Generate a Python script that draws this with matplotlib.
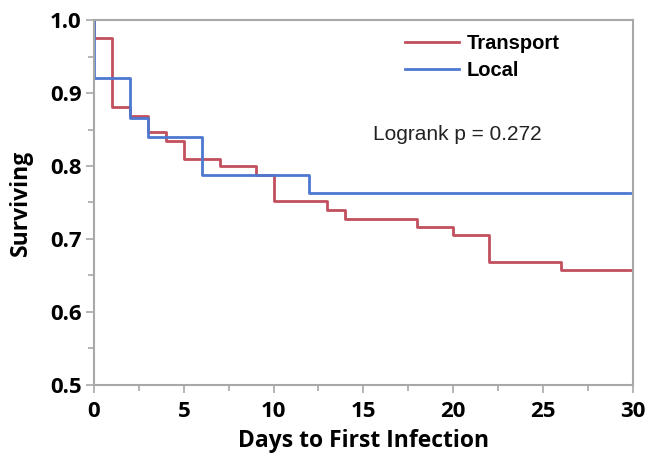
import matplotlib
matplotlib.use("Agg")
import matplotlib.pyplot as plt
from matplotlib.ticker import MultipleLocator

# Kaplan-Meier step data
transport_days = [0, 0, 1, 2, 3, 4, 5, 7, 9, 10, 13, 14, 18, 20, 22, 26, 30]
transport_surv = [1.0, 0.976, 0.881, 0.868, 0.847, 0.834, 0.810, 0.800, 0.787,
                  0.752, 0.739, 0.727, 0.716, 0.705, 0.669, 0.658, 0.658]
local_days = [0, 0, 2, 3, 6, 12, 30]
local_surv = [1.0, 0.920, 0.866, 0.840, 0.788, 0.763, 0.763]

xticks = [0, 5, 10, 15, 20, 25, 30]
yticks = [0.5, 0.6, 0.7, 0.8, 0.9, 1.0]

red = "#c24f5e"
blue = "#4d78d0"
gray = "#a8a8a8"

fig = plt.figure(figsize=(6.45, 4.57), dpi=100)
ax = fig.add_axes([0.1457, 0.158, 0.8353, 0.798])

ax.step(transport_days, transport_surv, where="post", color=red, lw=2, label="Transport")
ax.step(local_days, local_surv, where="post", color=blue, lw=2, label="Local")

ax.set_xlim(0, 30)
ax.set_ylim(0.5, 1.0)
ax.set_xticks(xticks)
ax.set_yticks(yticks)
ax.set_yticklabels(["%.1f" % v for v in yticks])
ax.xaxis.set_minor_locator(MultipleLocator(2.5))
ax.yaxis.set_minor_locator(MultipleLocator(0.05))

for s in ax.spines.values():
    s.set_color(gray)
    s.set_linewidth(1.5)
ax.tick_params(which="both", color=gray, width=1.2, direction="out")
ax.tick_params(which="major", length=6, pad=3)
ax.tick_params(axis="x", which="major", pad=6)
ax.tick_params(which="minor", length=4)
ax.tick_params(top=False, right=False)

for lab in ax.get_xticklabels() + ax.get_yticklabels():
    lab.set_fontfamily("Open Sans")
    lab.set_fontweight("bold")
    lab.set_fontsize(16)

ax.set_xlabel("Days to First Infection", fontfamily="Open Sans", fontweight="bold",
              fontsize=16.5, labelpad=5)
ax.set_ylabel("Surviving", fontfamily="Open Sans", fontweight="bold",
              fontsize=16.5, labelpad=12)

ax.text(0.675, 0.685, "Logrank p = 0.272", transform=ax.transAxes, ha="center",
        va="center", fontfamily="Liberation Sans", fontsize=15, color="#222222")

leg = ax.legend(loc="upper left", bbox_to_anchor=(0.577, 0.962), frameon=False,
                borderpad=0, borderaxespad=0,
                handlelength=2.68, handletextpad=0.4, labelspacing=0.42,
                prop={"family": "Liberation Sans", "weight": "bold", "size": 14.5})

plt.savefig("out.png", dpi=100)
